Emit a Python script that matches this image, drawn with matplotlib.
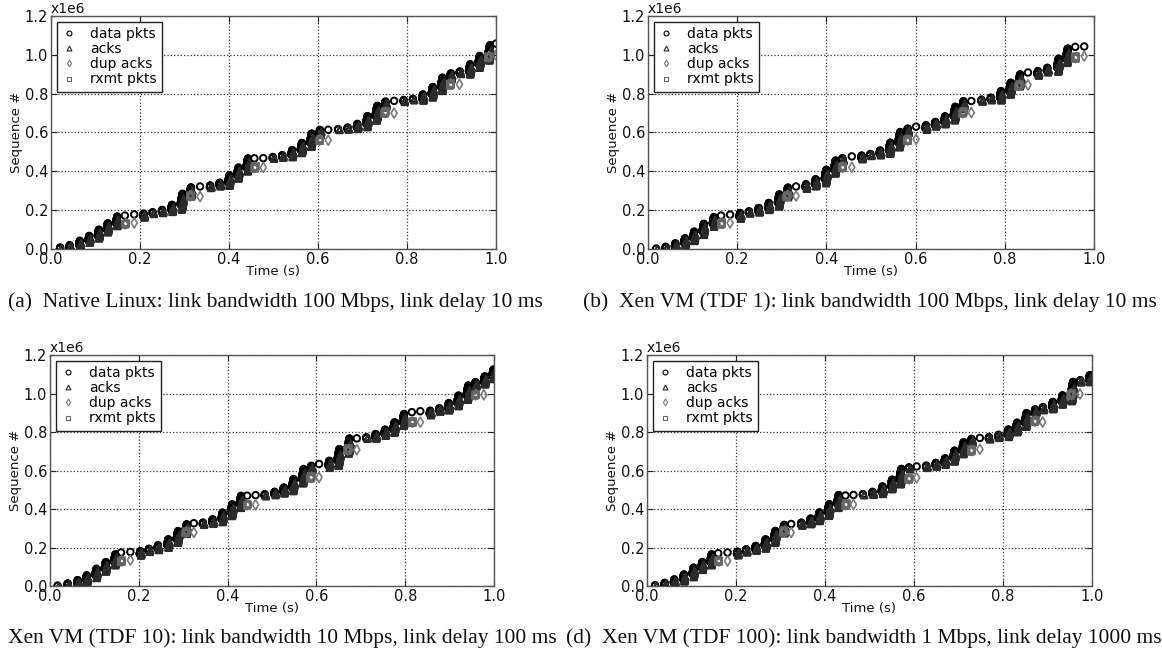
import numpy as np
import matplotlib
matplotlib.use("Agg")
import matplotlib.pyplot as plt
from matplotlib.lines import Line2D

# ---------------- data (sequence numbers in units of 1e6) ----------------
# Panel (a) Native Linux
a_burst_t = [0.020, 0.041, 0.063, 0.084, 0.105, 0.125, 0.146,
             0.207, 0.228, 0.249, 0.270, 0.291, 0.312,
             0.357, 0.378, 0.398, 0.418, 0.439,
             0.498, 0.519, 0.540, 0.561, 0.582, 0.603,
             0.645, 0.666, 0.687, 0.708, 0.729, 0.750,
             0.792, 0.813, 0.834, 0.855, 0.876, 0.897,
             0.918, 0.939, 0.960, 0.982]
a_burst_top = [0.008, 0.020, 0.043, 0.068, 0.100, 0.133, 0.168,
               0.183, 0.190, 0.202, 0.228, 0.285, 0.318,
               0.328, 0.342, 0.380, 0.420, 0.467,
               0.474, 0.484, 0.510, 0.547, 0.595, 0.614,
               0.618, 0.626, 0.645, 0.685, 0.738, 0.760,
               0.768, 0.774, 0.797, 0.835, 0.883, 0.905,
               0.915, 0.952, 0.995, 1.050]
a_open_t = [0.166, 0.187, 0.335, 0.457, 0.477, 0.623, 0.771, 1.000]
a_open_s = [0.172, 0.178, 0.322, 0.467, 0.468, 0.614, 0.763, 1.058]
a_rxmt_t = [0.166, 0.312, 0.457, 0.603, 0.750, 0.897, 0.982]
a_rxmt_s = [0.130, 0.274, 0.420, 0.562, 0.703, 0.848, 0.990]
a_dup_t = [0.187, 0.335, 0.477, 0.623, 0.771, 0.918, 1.000]
a_dup_s = [0.134, 0.270, 0.420, 0.560, 0.700, 0.848, 0.998]

# Panel (b) Xen VM (TDF 1)
b_burst_t = [0.018, 0.039, 0.060, 0.081, 0.101, 0.122, 0.145,
             0.205, 0.226, 0.247, 0.269, 0.291, 0.311,
             0.353, 0.374, 0.396, 0.417, 0.435,
             0.478, 0.498, 0.519, 0.540, 0.561, 0.581,
             0.622, 0.643, 0.664, 0.685, 0.705,
             0.747, 0.768, 0.789, 0.810, 0.831,
             0.873, 0.894, 0.917, 0.937]
b_burst_top = [0.003, 0.012, 0.030, 0.056, 0.090, 0.130, 0.165,
               0.186, 0.195, 0.212, 0.238, 0.282, 0.317,
               0.334, 0.360, 0.409, 0.456, 0.468,
               0.482, 0.490, 0.508, 0.548, 0.603, 0.621,
               0.638, 0.655, 0.684, 0.733, 0.762,
               0.770, 0.780, 0.814, 0.857, 0.900,
               0.917, 0.934, 0.981, 1.033]
b_open_t = [0.164, 0.184, 0.332, 0.457, 0.601, 0.725, 0.852, 0.958, 0.978]
b_open_s = [0.172, 0.177, 0.322, 0.477, 0.630, 0.762, 0.909, 1.041, 1.043]
b_rxmt_t = [0.164, 0.311, 0.435, 0.581, 0.705, 0.831, 0.958]
b_rxmt_s = [0.132, 0.273, 0.421, 0.560, 0.702, 0.843, 0.986]
b_dup_t = [0.184, 0.332, 0.457, 0.601, 0.725, 0.852, 0.978]
b_dup_s = [0.134, 0.273, 0.421, 0.565, 0.702, 0.845, 0.993]

# Panel (c) Xen VM (TDF 10)
c_burst_t = [0.017, 0.039, 0.061, 0.081, 0.102, 0.123, 0.144,
             0.202, 0.222, 0.242, 0.264, 0.285, 0.305,
             0.344, 0.365, 0.386, 0.407, 0.427,
             0.483, 0.505, 0.525, 0.545, 0.567, 0.587,
             0.627, 0.647, 0.670,
             0.712, 0.732, 0.753, 0.773, 0.794,
             0.855, 0.876, 0.896, 0.917, 0.938, 0.957, 0.977, 0.996]
c_burst_top = [0.003, 0.014, 0.031, 0.056, 0.090, 0.125, 0.165,
               0.182, 0.194, 0.212, 0.243, 0.286, 0.321,
               0.330, 0.347, 0.382, 0.425, 0.469,
               0.477, 0.490, 0.512, 0.556, 0.608, 0.625,
               0.651, 0.712, 0.767,
               0.773, 0.790, 0.813, 0.851, 0.894,
               0.911, 0.924, 0.951, 0.990, 1.042, 1.060, 1.090, 1.125]
c_open_t = [0.160, 0.181, 0.324, 0.444, 0.463, 0.606, 0.691, 0.815, 0.834]
c_open_s = [0.174, 0.177, 0.326, 0.469, 0.472, 0.634, 0.767, 0.903, 0.908]
c_rxmt_t = [0.160, 0.305, 0.444, 0.587, 0.670, 0.815, 0.957]
c_rxmt_s = [0.130, 0.281, 0.422, 0.564, 0.708, 0.851, 0.993]
c_dup_t = [0.181, 0.324, 0.463, 0.606, 0.691, 0.834, 0.977]
c_dup_s = [0.134, 0.278, 0.422, 0.564, 0.708, 0.851, 0.993]

# Panel (d) Xen VM (TDF 100)
d_burst_t = [0.018, 0.039, 0.060, 0.081, 0.102, 0.122, 0.142,
             0.202, 0.222, 0.243, 0.264, 0.285, 0.306,
             0.346, 0.366, 0.385, 0.406, 0.427,
             0.485, 0.506, 0.527, 0.548, 0.567, 0.588,
             0.627, 0.648, 0.668, 0.688, 0.708, 0.728,
             0.768, 0.789, 0.810, 0.829, 0.849, 0.871,
             0.889, 0.910, 0.931, 0.952, 0.973, 0.993]
d_burst_top = [0.005, 0.017, 0.035, 0.061, 0.096, 0.125, 0.165,
               0.179, 0.191, 0.209, 0.243, 0.287, 0.318,
               0.330, 0.351, 0.383, 0.426, 0.473,
               0.478, 0.490, 0.518, 0.553, 0.609, 0.617,
               0.626, 0.640, 0.664, 0.704, 0.748, 0.765,
               0.774, 0.786, 0.814, 0.849, 0.899, 0.918,
               0.930, 0.957, 0.991, 1.061, 1.070, 1.096]
d_open_t = [0.160, 0.181, 0.324, 0.446, 0.464, 0.606, 0.748]
d_open_s = [0.170, 0.174, 0.322, 0.470, 0.473, 0.621, 0.769]
d_rxmt_t = [0.160, 0.306, 0.446, 0.588, 0.728, 0.871, 0.952]
d_rxmt_s = [0.130, 0.282, 0.423, 0.557, 0.704, 0.856, 0.995]
d_dup_t = [0.181, 0.324, 0.464, 0.606, 0.748, 0.889, 0.973]
d_dup_s = [0.130, 0.278, 0.423, 0.562, 0.710, 0.852, 0.997]

captions = [
    "(a)  Native Linux: link bandwidth 100 Mbps, link delay 10 ms",
    "(b)  Xen VM (TDF 1): link bandwidth 100 Mbps, link delay 10 ms",
    "Xen VM (TDF 10): link bandwidth 10 Mbps, link delay 100 ms",
    "(d)  Xen VM (TDF 100): link bandwidth 1 Mbps, link delay 1000 ms",
]
legend_labels = ["data pkts", "acks", "dup acks", "rxmt pkts"]
x_ticks = [0.0, 0.2, 0.4, 0.6, 0.8, 1.0]
y_ticks = [0.0, 0.2, 0.4, 0.6, 0.8, 1.0, 1.2]

panels = [
    (a_burst_t, a_burst_top, a_open_t, a_open_s, a_rxmt_t, a_rxmt_s, a_dup_t, a_dup_s),
    (b_burst_t, b_burst_top, b_open_t, b_open_s, b_rxmt_t, b_rxmt_s, b_dup_t, b_dup_s),
    (c_burst_t, c_burst_top, c_open_t, c_open_s, c_rxmt_t, c_rxmt_s, c_dup_t, c_dup_s),
    (d_burst_t, d_burst_top, d_open_t, d_open_s, d_rxmt_t, d_rxmt_s, d_dup_t, d_dup_s),
]

PKT = 0.00145       # one packet of sequence space (1e6 units)
PKT_DT = 0.00012    # send time of one packet

# ---------------- styling ----------------
plt.rcParams['font.family'] = ['DejaVu Sans']
C_DATA = '#000000'
C_ACK = '#2b2b2b'
C_DUP = '#7a7a7a'
C_RX = '#666666'
MS = 22
LW = 1.2

fig = plt.figure(figsize=(11.62, 6.49), dpi=100)
rects = [
    [51 / 1162, 1 - 249 / 649, 445 / 1162, 233 / 649],
    [648 / 1162, 1 - 249 / 649, 446 / 1162, 233 / 649],
    [50 / 1162, 1 - 586 / 649, 444 / 1162, 231 / 649],
    [647 / 1162, 1 - 586 / 649, 445 / 1162, 231 / 649],
]
cap_pos = [(8 / 1162, 1 - 302 / 649, 'left'),
           (583 / 1162, 1 - 302 / 649, 'left'),
           (8 / 1162, 1 - 638 / 649, 'left'),
           (566 / 1162, 1 - 638 / 649, 'left')]

for idx, (bt, btop, ot, os_, rt, rs, dt, ds) in enumerate(panels):
    ax = fig.add_axes(rects[idx])
    # expand bursts into individual packets
    data_x, data_y, ack_x, ack_y = [], [], [], []
    prev = 0.0
    for t, top in zip(bt, btop):
        lo = prev
        h = max(top - lo, PKT)
        n = max(2, int(round(h / PKT)))
        seq = np.linspace(lo, top, n)
        tt = t + np.arange(n) * PKT_DT
        data_x.extend(tt); data_y.extend(seq)
        shift = 0.45 * h
        ack_x.extend(tt + 0.003); ack_y.extend(seq - shift)
        prev = top
    ack_y = np.clip(ack_y, 0, None)

    ax.scatter(data_x, data_y, s=MS, marker='o', facecolors='none',
               edgecolors=C_DATA, linewidths=LW, zorder=3)
    ax.scatter(ack_x, ack_y, s=MS, marker='^', facecolors='none',
               edgecolors=C_ACK, linewidths=LW, zorder=4)
    ax.scatter(ot, os_, s=MS, marker='o', facecolors='none',
               edgecolors=C_DATA, linewidths=LW + 0.2, zorder=3)
    # retransmissions: a few overlapping packets at each event
    for t, s in zip(rt, rs):
        ax.scatter([t, t + 0.001, t + 0.002, t + 0.001], [s - 0.005, s, s + 0.005, s - 0.002],
                   s=MS, marker='s', facecolors='none', edgecolors=C_RX,
                   linewidths=LW, zorder=6)
        ax.scatter([t + 0.001, t + 0.002], [s - 0.003, s + 0.003], s=MS,
                   marker='d', facecolors='none', edgecolors=C_DUP,
                   linewidths=LW, zorder=5)
    ax.scatter(dt, ds, s=MS + 4, marker='d', facecolors='none',
               edgecolors=C_DUP, linewidths=LW, zorder=5)

    ax.set_xlim(0, 1.0)
    ax.set_ylim(0, 1.2)
    ax.set_xticks(x_ticks)
    ax.set_yticks(y_ticks)
    ax.set_xticklabels([f"{v:.1f}" for v in x_ticks], fontsize=10.5)
    ax.set_yticklabels([f"{v:.1f}" for v in y_ticks], fontsize=10.5)
    ax.tick_params(direction='in', top=True, right=True, length=4,
                   width=0.8, pad=2, colors='#222222', labelcolor='#111111')
    ax.grid(True, linestyle=':', color='#333333', linewidth=0.9)
    ax.set_axisbelow(True)
    for sp in ax.spines.values():
        sp.set_color('#555555')
        sp.set_linewidth(1.0)
    ax.set_xlabel("Time (s)", fontsize=9.5, labelpad=-1, color='#111111')
    ax.set_ylabel("Sequence #", fontsize=9.5, labelpad=1, color='#111111')
    ax.text(0.0, 1.0, "x1e6", transform=ax.transAxes, fontsize=10,
            ha='left', va='bottom', color='#111111')

    handles = [
        Line2D([], [], marker='o', linestyle='none', markerfacecolor='none',
               markeredgecolor=C_DATA, markersize=3.5, markeredgewidth=0.8),
        Line2D([], [], marker='^', linestyle='none', markerfacecolor='none',
               markeredgecolor=C_ACK, markersize=3.5, markeredgewidth=0.8),
        Line2D([], [], marker='d', linestyle='none', markerfacecolor='none',
               markeredgecolor=C_DUP, markersize=3.5, markeredgewidth=0.8),
        Line2D([], [], marker='s', linestyle='none', markerfacecolor='none',
               markeredgecolor=C_RX, markersize=3.5, markeredgewidth=0.8),
    ]
    leg = ax.legend(handles, legend_labels, loc='upper left', fontsize=10,
                    frameon=True, fancybox=False, framealpha=1,
                    edgecolor='#222222', labelspacing=0.08, handlelength=1.0,
                    handletextpad=1.0, borderpad=0.4, borderaxespad=0.4)
    leg.get_frame().set_linewidth(1.0)
    leg.set_zorder(10)

    x, y, ha = cap_pos[idx]
    fig.text(x, y, captions[idx], ha=ha, va='center', fontsize=15.5,
             family=['Liberation Serif', 'DejaVu Serif'], color='#111111')

fig.savefig("out.png", dpi=100)
